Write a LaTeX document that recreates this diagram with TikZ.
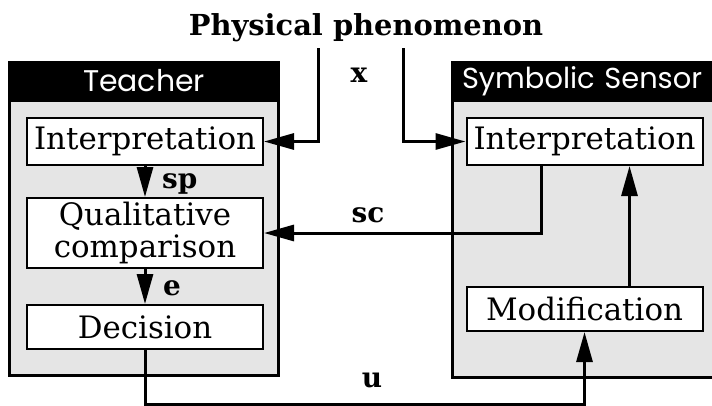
\documentclass[tikz,border=0pt]{standalone}
\usepackage{fontspec}
\setmainfont{DejaVu Serif}
\newfontfamily\headfont{Poppins}
\usetikzlibrary{arrows.meta}
\definecolor{panel}{gray}{0.9}
\tikzstyle{outer}=[draw, fill=panel, line width=3bp, inner sep=0pt]
\tikzstyle{header}=[draw, fill=black, text=white, line width=3bp, inner sep=0pt, minimum height=38bp, font=\headfont\fontsize{30}{30}\selectfont]
\tikzstyle{box}=[draw, fill=white, line width=2bp, inner sep=0pt, minimum width=236bp, align=center, font=\fontsize{31}{32}\selectfont]
\tikzstyle{lbl}=[inner sep=0pt, font=\bfseries\fontsize{28}{28}\selectfont]
\tikzstyle{arr}=[line width=3bp, -{Triangle[length=30bp,width=16bp]}]

\begin{document}
\begin{tikzpicture}[x=1bp, y=-1bp]
                \path[use as bounding box, clip] (0,0) rectangle (712,405);
                \node[anchor=base, font=\bfseries\fontsize{29}{29}\selectfont] (phen) at (366,35) {Physical phenomenon};
                % teacher
                \node[outer, minimum width=268bp, minimum height=313bp] (teacher) at (144,218.5) {};
                \node[header, minimum width=268bp] (thead) at (144,81) {Teacher};
                \node[box, minimum height=47bp] (tint) at (145,141.5) {Interpretation};
                \node[box, minimum height=70bp] (tcmp) at (145,233) {Qualitative\\comparison};
                \node[box, minimum height=44bp] (tdec) at (145,327) {Decision};
                % symbolic sensor
                \node[outer, minimum width=308bp, minimum height=315bp] (sensor) at (606,219.5) {};
                \node[header, text width=288bp, inner xsep=10bp, align=left, font=\headfont\fontsize{29}{29}\selectfont] (shead) at (606,81) {Symbolic Sensor};
                \node[box, minimum height=47bp] (sint) at (584.5,141.5) {Interpretation};
                \node[box, minimum height=44bp] (smod) at (584.5,309) {Modification};
                % signals
                \coordinate (xl) at (318,48);
                \coordinate (xr) at (403,48);
                \draw[arr] (xl) |- (tint.east);
                \draw[arr] (xr) |- (sint.west);
                \draw[arr] (tint) -- (tcmp);
                \draw[arr] (tcmp) -- (tdec);
                \draw[arr] ([xshift=-43bp]sint.south) |- (tcmp.east);
                \draw[arr] ([xshift=45bp]smod.north) -- ([xshift=45bp]sint.south);
                \draw[arr] (tdec.south) -- ++(0,54) -| (smod.south);
                \node[lbl, anchor=base] (x) at (359,82) {x};
                \node[lbl, anchor=base west] (sp) at (162,188) {sp};
                \node[lbl, anchor=base west] (e) at (163,295) {e};
                \node[lbl, anchor=base] (sc) at (368,222) {sc};
                \node[lbl, anchor=base] (u) at (372,387) {u};
\end{tikzpicture}
\end{document}
